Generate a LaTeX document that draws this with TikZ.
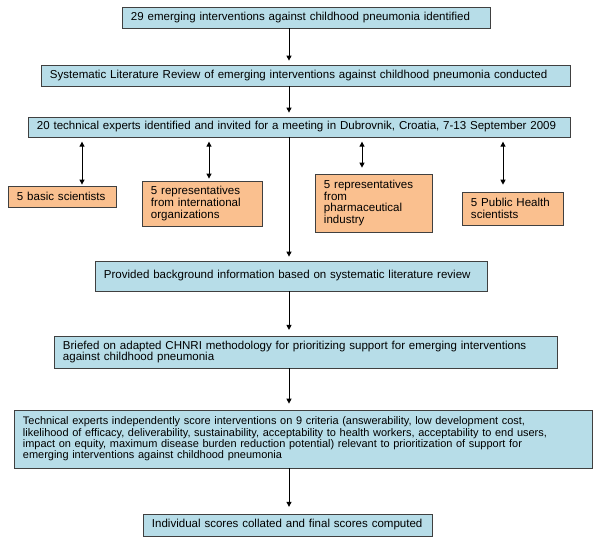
\documentclass[tikz,border=0pt]{standalone}
\usepackage{fontspec}
\setmainfont{Liberation Sans}
\usetikzlibrary{arrows.meta,shadows}
\definecolor{boxblue}{RGB}{183,221,232}
\definecolor{boxorange}{RGB}{250,192,143}
\definecolor{edgegray}{RGB}{64,64,64}
\newcommand{\oneline}[1]{\mbox{#1}}
\begin{document}
\begin{tikzpicture}[x=0.025cm,y=-0.025cm,
  basebox/.style={draw=edgegray, line width=0.6pt, inner xsep=0.225cm, inner ysep=0pt,
    align=left, font=\fontsize{8.2}{8.2}\selectfont,
    drop shadow={shadow xshift=0.7pt, shadow yshift=-0.7pt, fill=black!55, opacity=1}},
  bluebox/.style={basebox, fill=boxblue},
  orangebox/.style={basebox, fill=boxorange, font=\fontsize{8.2}{8.5}\selectfont},
  arr/.style={-{Triangle[length=3.6pt,width=3.6pt]}, line width=0.7pt},
  darr/.style={{Triangle[length=3.6pt,width=3.6pt]}-{Triangle[length=3.6pt,width=3.6pt]}, line width=0.7pt}
]
\useasboundingbox (0,0) rectangle (600,539);

\node[bluebox, text width=8.75cm, minimum height=0.525cm] (b1) at (306,17.5)
  {\oneline{29 emerging interventions against childhood pneumonia identified}};
\node[bluebox, text width=12.775cm, minimum height=0.525cm] (b2) at (305.5,75.5)
  {\oneline{Systematic Literature Review of emerging interventions against childhood pneumonia conducted}};
\node[bluebox, text width=13.1cm, minimum height=0.5cm] (b3) at (299,127)
  {\oneline{20 technical experts identified and invited for a meeting in Dubrovnik, Croatia, 7-13 September 2009}};

\node[orangebox, text width=2.25cm, minimum height=0.525cm] (o1) at (62,196.5)
  {\oneline{5 basic scientists}};
\node[orangebox, text width=2.55cm, minimum height=1.125cm] (o2) at (202,203.5)
  {\oneline{5 representatives}\\\oneline{from international}\\\oneline{organizations}};
\node[orangebox, text width=2.475cm, minimum height=1.45cm] (o3) at (373.5,203)
  {\oneline{5 representatives}\\from\\\oneline{pharmaceutical}\\industry};
\node[orangebox, text width=2.075cm, minimum height=0.825cm] (o4) at (512.5,208.5)
  {\oneline{5 Public Health}\\scientists};

\node[bluebox, text width=9.35cm, minimum height=0.75cm] (b4) at (291,276)
  {\oneline{Provided background information based on systematic literature review}};
\node[bluebox, text width=12.125cm, minimum height=0.8cm] (b5) at (305.5,352)
  {\oneline{Briefed on adapted CHNRI methodology for prioritizing support for emerging interventions}\\\oneline{against childhood pneumonia}};
\node[bluebox, text width=14.0cm, minimum height=1.45cm, font=\fontsize{7.8}{8.1}\selectfont] (b6) at (303,439)
  {\oneline{Technical experts independently score interventions on 9 criteria (answerability, low development cost,}\\\oneline{likelihood of efficacy, deliverability, sustainability, acceptability to health workers, acceptability to end users,}\\\oneline{impact on equity, maximum disease burden reduction potential) relevant to prioritization of support for}\\\oneline{emerging interventions against childhood pneumonia}};
\node[bluebox, text width=6.775cm, minimum height=0.55cm] (b7) at (287.5,525)
  {\oneline{Individual scores collated and final scores computed}};

\coordinate (ax) at (289,0);
\coordinate (d1) at (82,0);
\coordinate (d2) at (209,0);
\coordinate (d3) at (362,0);
\coordinate (d4) at (503,0);

\draw[arr, shorten >=2.8pt] (b1.south -| ax) -- (b2.north -| ax);
\draw[arr, shorten >=2.8pt] (b2.south -| ax) -- (b3.north -| ax);
\draw[arr, shorten >=2.8pt] (b3.south -| ax) -- (b4.north -| ax);
\draw[arr, shorten >=4pt] (b4.south -| ax) -- (b5.north -| ax);
\draw[arr, shorten >=4.2pt] (b5.south -| ax) -- (b6.north -| ax);
\draw[arr, shorten >=4.8pt] (b6.south -| ax) -- (b7.north -| ax);

\draw[darr, shorten <=3pt, shorten >=0.7pt] (b3.south -| d1) -- (o1.north -| d1);
\draw[darr, shorten <=3pt, shorten >=1.4pt] (b3.south -| d2) -- (o2.north -| d2);
\draw[darr, shorten <=3pt, shorten >=4.2pt] (b3.south -| d3) -- (o3.north -| d3);
\draw[darr, shorten <=3pt, shorten >=4.9pt] (b3.south -| d4) -- (o4.north -| d4);
\end{tikzpicture}
\end{document}
